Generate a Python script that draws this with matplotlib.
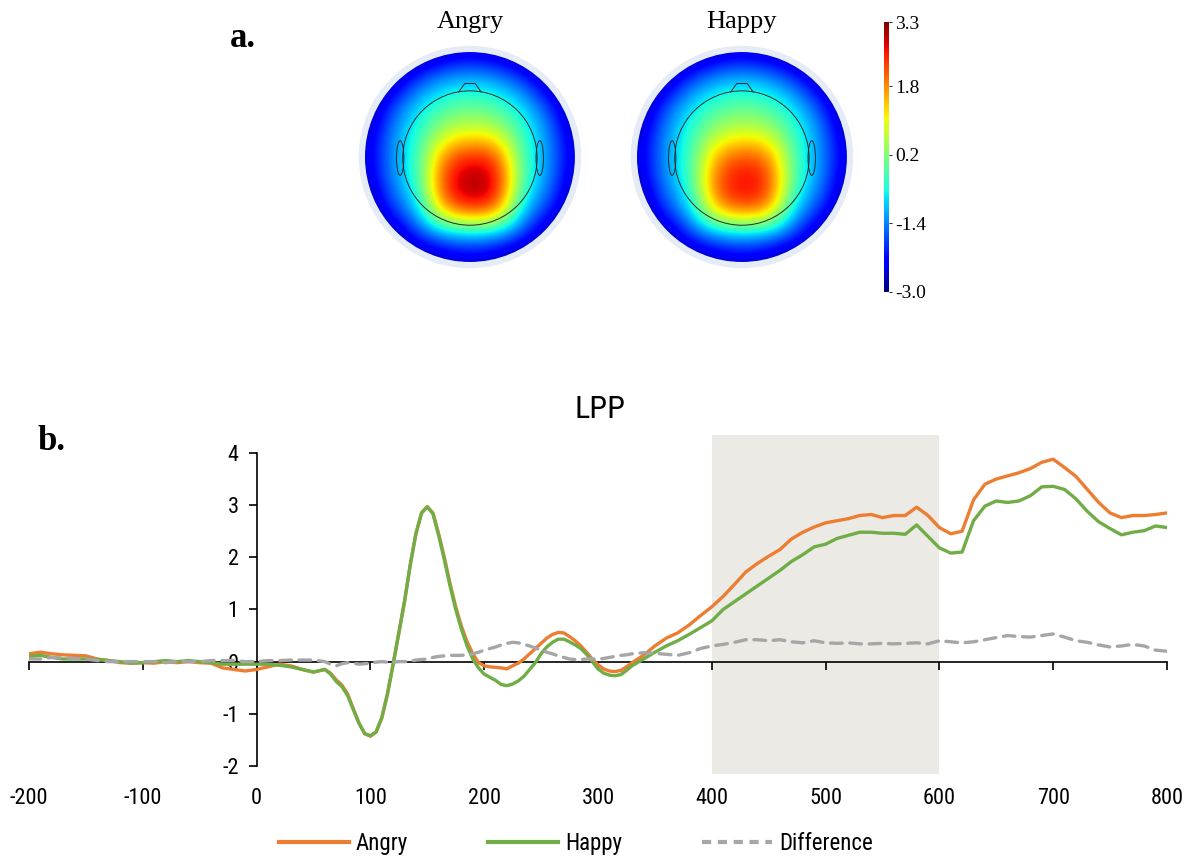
import matplotlib
matplotlib.use("Agg")
import matplotlib.pyplot as plt
import numpy as np
from matplotlib import font_manager
from matplotlib.patches import Circle, Polygon, Ellipse
from matplotlib.lines import Line2D
from matplotlib.cm import ScalarMappable
from matplotlib.colors import Normalize

installed = {f.name for f in font_manager.fontManager.ttflist}
SANS = next(n for n in ["Liberation Sans Narrow", "Roboto Condensed", "Lato", "Open Sans"]
            if n in installed)
SERIF = "Liberation Serif"
plt.rcParams["axes.unicode_minus"] = False

# ---- panel a: scalp maps (coarse grid, x/y from -1 to 1 step 0.25, top row = front)
angry_topo = [
    [-3.3, -3.2, -3.2, -2.8, -2.6, -2.8, -3.2, -3.2, -3.3],
    [-3.2, -3.0, -1.9, -1.3, -1.1, -1.3, -1.9, -3.0, -3.2],
    [-3.2, -1.9, -0.9, -0.3, -0.1, -0.3, -0.9, -1.9, -3.2],
    [-2.8, -1.4, -0.5, 0.5, 0.8, 0.6, -0.4, -1.4, -2.8],
    [-2.6, -1.3, -0.4, 2.0, 2.6, 2.4, -0.3, -1.3, -2.6],
    [-2.8, -1.4, -0.5, 2.6, 3.3, 3.0, -0.3, -1.4, -2.8],
    [-3.2, -1.9, -1.0, 1.9, 2.6, 2.3, -1.0, -1.9, -3.2],
    [-3.2, -3.0, -1.9, -1.4, -1.2, -1.4, -1.9, -3.0, -3.2],
    [-3.3, -3.2, -3.2, -2.8, -2.6, -2.8, -3.2, -3.2, -3.3],
]
happy_topo = [
    [-3.3, -3.2, -3.2, -2.8, -2.6, -2.8, -3.2, -3.2, -3.3],
    [-3.2, -3.0, -1.9, -1.3, -1.1, -1.3, -1.9, -3.0, -3.2],
    [-3.2, -1.9, -0.9, -0.3, -0.1, -0.3, -0.9, -1.9, -3.2],
    [-2.8, -1.4, -0.5, 0.4, 0.7, 0.5, -0.4, -1.4, -2.8],
    [-2.6, -1.3, -0.4, 1.7, 2.3, 2.0, -0.3, -1.3, -2.6],
    [-2.8, -1.4, -0.5, 2.3, 2.9, 2.6, -0.3, -1.4, -2.8],
    [-3.2, -1.9, -1.0, 1.7, 2.3, 2.0, -1.0, -1.9, -3.2],
    [-3.2, -3.0, -1.9, -1.4, -1.2, -1.4, -1.9, -3.0, -3.2],
    [-3.3, -3.2, -3.2, -2.8, -2.6, -2.8, -3.2, -3.2, -3.3],
]
cbar_ticks = [3.3, 1.8, 0.2, -1.4, -3.0]

# ---- panel b: LPP waveforms (10 ms steps, 5 ms between 60 and 330 ms)
times = np.concatenate([np.arange(-200, 51, 10), np.arange(60, 331, 5), np.arange(340, 801, 10)])
angry = [
    # -200 .. 50
    0.15, 0.18, 0.15, 0.13, 0.12, 0.11, 0.05, 0.02, -0.02, -0.03,
    -0.02, -0.03, 0.00, -0.02, 0.00, -0.02, -0.03, -0.12, -0.15, -0.18,
    -0.15, -0.10, -0.05, -0.08, -0.15, -0.20,
    # 60 .. 330
    -0.15, -0.22, -0.35, -0.45, -0.62, -0.90, -1.18, -1.38, -1.43, -1.35,
    -1.08, -0.62, -0.05, 0.55, 1.15, 1.85, 2.45, 2.85, 2.97, 2.85,
    2.45, 2.00, 1.50, 1.05, 0.68, 0.38, 0.15, -0.02, -0.08, -0.10,
    -0.11, -0.12, -0.14, -0.08, -0.03, 0.05, 0.15, 0.25, 0.35, 0.45,
    0.52, 0.56, 0.55, 0.48, 0.40, 0.30, 0.18, 0.05, -0.06, -0.14,
    -0.18, -0.19, -0.17, -0.10, -0.02,
    # 340 .. 800
    0.12, 0.30, 0.45, 0.55, 0.70, 0.88,
    1.05, 1.25, 1.48, 1.72, 1.88, 2.02, 2.15, 2.35, 2.48, 2.58,
    2.66, 2.70, 2.74, 2.80, 2.82, 2.76, 2.80, 2.80, 2.96, 2.80,
    2.57, 2.45, 2.50, 3.10, 3.40, 3.50, 3.56, 3.62, 3.70, 3.82,
    3.88, 3.72, 3.55, 3.30, 3.05, 2.85, 2.76, 2.80, 2.80, 2.82,
    2.85,
]
happy = [
    # -200 .. 50
    0.10, 0.12, 0.08, 0.05, 0.05, 0.05, 0.04, 0.02, 0.00, -0.03,
    -0.02, 0.00, 0.02, 0.00, 0.02, 0.00, -0.02, -0.05, -0.05, -0.05,
    -0.05, -0.05, -0.07, -0.10, -0.15, -0.20,
    # 60 .. 330
    -0.15, -0.24, -0.38, -0.48, -0.65, -0.92, -1.18, -1.38, -1.42, -1.35,
    -1.08, -0.62, -0.05, 0.55, 1.15, 1.85, 2.45, 2.85, 2.97, 2.83,
    2.42, 1.95, 1.45, 1.00, 0.62, 0.30, 0.05, -0.12, -0.24, -0.30,
    -0.36, -0.44, -0.46, -0.43, -0.37, -0.28, -0.15, -0.02, 0.15, 0.28,
    0.37, 0.43, 0.43, 0.38, 0.32, 0.25, 0.14, 0.00, -0.14, -0.22,
    -0.26, -0.27, -0.25, -0.17, -0.08,
    # 340 .. 800
    0.05, 0.18, 0.30, 0.40, 0.52, 0.65,
    0.78, 1.00, 1.15, 1.30, 1.45, 1.60, 1.75, 1.92, 2.05, 2.20,
    2.25, 2.36, 2.42, 2.48, 2.48, 2.46, 2.46, 2.44, 2.62, 2.40,
    2.18, 2.08, 2.10, 2.70, 2.98, 3.08, 3.05, 3.08, 3.18, 3.35,
    3.36, 3.30, 3.12, 2.88, 2.68, 2.55, 2.43, 2.48, 2.51, 2.60,
    2.57,
]
difference = [
    # -200 .. 50
    0.05, 0.05, 0.08, 0.08, 0.06, 0.05, 0.02, 0.00, 0.00, 0.00,
    0.00, 0.00, -0.02, 0.00, 0.00, 0.00, 0.02, 0.02, 0.02, 0.00,
    0.00, 0.02, 0.02, 0.03, 0.03, 0.03,
    # 60 .. 330
    0.00, -0.05, -0.08, -0.04, -0.02, -0.03, -0.05, -0.04, -0.03, -0.01,
    0.00, -0.01, -0.01, 0.00, 0.00, 0.01, 0.03, 0.04, 0.05, 0.08,
    0.10, 0.11, 0.12, 0.12, 0.12, 0.13, 0.15, 0.18, 0.22, 0.25,
    0.28, 0.32, 0.35, 0.37, 0.36, 0.33, 0.30, 0.26, 0.22, 0.18,
    0.15, 0.11, 0.08, 0.05, 0.04, 0.04, 0.05, 0.05, 0.05, 0.06,
    0.08, 0.10, 0.12, 0.13, 0.15,
    # 340 .. 800
    0.17, 0.16, 0.14, 0.12, 0.17, 0.25,
    0.30, 0.33, 0.37, 0.42, 0.42, 0.40, 0.42, 0.38, 0.36, 0.40,
    0.36, 0.35, 0.36, 0.34, 0.34, 0.35, 0.34, 0.35, 0.36, 0.34,
    0.40, 0.38, 0.36, 0.38, 0.42, 0.46, 0.50, 0.48, 0.47, 0.50,
    0.53, 0.47, 0.40, 0.37, 0.32, 0.28, 0.30, 0.33, 0.30, 0.22,
    0.20,
]
window = (400, 600)
xticks = list(range(-200, 801, 100))
yticks = list(range(-2, 5))

fig = plt.figure(figsize=(11.92, 8.57), dpi=100)
norm = Normalize(vmin=-3.0, vmax=3.3)


def draw_topo(ax, grid, title):
    ax.set_xlim(-1.143, 1.143)
    ax.set_ylim(-1.143, 1.143)
    ax.set_aspect("equal")
    ax.axis("off")
    ax.add_patch(Circle((0, 0), 1.06, facecolor="#e6ecf5", edgecolor="none", zorder=0))
    im = ax.imshow(np.array(grid), cmap="jet", norm=norm, origin="upper",
                   extent=(-1.125, 1.125, -1.125, 1.125), interpolation="bicubic",
                   interpolation_stage="data", zorder=1)
    im.set_clip_path(Circle((0, 0), 1.0, transform=ax.transData))
    # head outline
    ax.add_patch(Circle((0, -0.01), 0.64, fill=False, edgecolor="#2a2a2a", lw=0.7, zorder=3))
    ax.add_patch(Polygon([[-0.11, 0.615], [-0.05, 0.70], [0.05, 0.70], [0.11, 0.615]],
                         closed=False, fill=False, edgecolor="#2a2a2a", lw=0.7, zorder=3))
    for side in (-1, 1):
        ax.add_patch(Ellipse((side * 0.665, -0.01), 0.07, 0.33, fill=False,
                             edgecolor="#2a2a2a", lw=0.7, zorder=2))
    ax.text(0, 1.29, title, ha="center", va="center", fontsize=19, family=SERIF,
            transform=ax.transData)


ax_a1 = fig.add_axes([0.2936, 0.6768, 0.2013, 0.28])
draw_topo(ax_a1, angry_topo, "Angry")
ax_a2 = fig.add_axes([0.5218, 0.6768, 0.2013, 0.28])
draw_topo(ax_a2, happy_topo, "Happy")

cax = fig.add_axes([0.7416, 0.6593, 0.0045, 0.315])
cb = fig.colorbar(ScalarMappable(norm=norm, cmap="jet"), cax=cax, ticks=cbar_ticks, format="%.1f")
cb.outline.set_visible(False)
cax.tick_params(length=2, width=0.6, pad=2, labelsize=14)
for lab in cax.get_yticklabels():
    lab.set_family(SERIF)

fig.text(0.204, 0.955, "a.", fontsize=25, fontweight="bold", family=SERIF, ha="center", va="center")
fig.text(0.043, 0.485, "b.", fontsize=25, fontweight="bold", family=SERIF, ha="center", va="center")

# ---- panel b
ax = fig.add_axes([0.0243, 0.0971, 0.9547, 0.3957])
ax.axvspan(*window, color="#EBEAE5", lw=0, zorder=0)
ax.plot(times, angry, color="#ED7D31", lw=2.4, label="Angry", zorder=3,
        solid_joinstyle="round")
ax.plot(times, happy, color="#70AD47", lw=2.4, label="Happy", zorder=4,
        solid_joinstyle="round")
ax.plot(times, difference, color="#A6A6A6", lw=2.4, ls=(0, (3.5, 2.3)),
        dash_capstyle="round", label="Difference", zorder=5)

ax.set_xlim(-200, 800)
ax.set_ylim(-2.15, 4.35)
for s in ("top", "right"):
    ax.spines[s].set_visible(False)
ax.spines["left"].set_position(("data", 0))
ax.spines["left"].set_bounds(-2, 4)
ax.spines["bottom"].set_position(("data", 0))
ax.spines["bottom"].set_bounds(-200, 800)
ax.spines["left"].set_linewidth(1.2)
ax.spines["bottom"].set_linewidth(1.2)
ax.set_xticks(xticks)
ax.set_yticks(yticks)
ax.tick_params(axis="x", direction="out", length=6, width=1.2, labelbottom=False)
ax.tick_params(axis="y", direction="out", length=6, width=1.2, pad=7, labelsize=16)
for lab in ax.get_yticklabels():
    lab.set_family(SANS)
ax.patch.set_visible(False)

sec = ax.secondary_xaxis(0)
sec.spines["bottom"].set_visible(False)
sec.set_xticks(xticks)
sec.tick_params(length=0, pad=10, labelsize=16)
for lab in sec.get_xticklabels():
    lab.set_family(SANS)

fig.text(0.503, 0.5216, "LPP", fontsize=23, family=SANS, ha="center", va="center")

handles = [
    Line2D([], [], color="#ED7D31", lw=3),
    Line2D([], [], color="#70AD47", lw=3),
    Line2D([], [], color="#A6A6A6", lw=3, ls=(0, (2.2, 1.6))),
]
fig.legend(handles, ["Angry", "Happy", "Difference"], loc="center",
           bbox_to_anchor=(0.483, 0.016), ncol=3, frameon=False, handlelength=3.05,
           columnspacing=3.5, handletextpad=0.3, prop={"family": SANS, "size": 16.5})

fig.savefig("out.png", dpi=100)
